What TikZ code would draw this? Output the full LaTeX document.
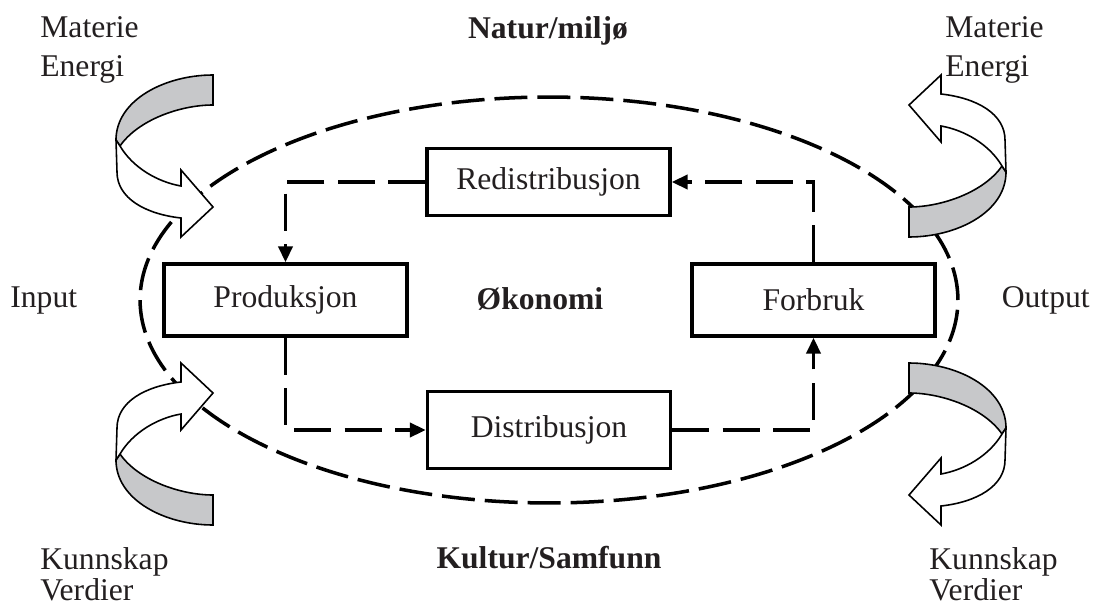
\documentclass[tikz,border=0pt]{standalone}
\usepackage{fontspec}
\setmainfont{Liberation Serif}
\usetikzlibrary{arrows.meta}
\definecolor{txt}{RGB}{35,31,32}
\definecolor{ribgrey}{RGB}{199,200,202}
\tikzset{
  lbl/.style={font=\fontsize{18pt}{21.6pt}\selectfont, text=txt, inner sep=0pt},
  boldlbl/.style={font=\fontsize{18pt}{21.6pt}\selectfont\bfseries, text=txt, inner sep=0pt},
  stepbox/.style={draw=black, line width=1.9pt, minimum width=4.86cm, minimum height=1.44cm, fill=white,
    font=\fontsize{18pt}{21.6pt}\selectfont, text=txt, inner sep=0pt},
  conn/.style={line width=2.2pt, dash pattern=on 0.74cm off 0.27cm, -{Triangle[length=0.32cm,width=0.28cm]}},
  ell/.style={line width=2pt, dash pattern=on 0.66cm off 0.2cm},
  ribbon/.style={draw=black, line width=0.9pt, line join=miter},
}
\newcommand\ribbonshape{%
  \filldraw[ribbon, fill=ribgrey] (213,75) .. controls (165,75) and (116,100) .. (116,140)
     -- (120,146) .. controls (138,120) and (180,105) .. (213,105) -- cycle;
  \filldraw[ribbon, fill=white] (120,146) .. controls (133,168) and (158,182) .. (181,186)
     -- (181,170) -- (213,207) -- (181,237) -- (181,218)
     .. controls (145,214) and (117,198) .. (117,172) -- (116,140) -- cycle;
}
\begin{document}
\begin{tikzpicture}[x=0.02cm, y=-0.02cm]
\useasboundingbox (0,0) rectangle (1094,608);

% environment ellipse
\draw[ell] (549,300) ellipse [x radius=8.18cm, y radius=4.06cm];

% boxes
\node[stepbox] (prod)  at (285.5,300) {Produksjon};
\node[stepbox] (forb)  at (813.5,300) {Forbruk};
\node[stepbox, minimum height=1.34cm] (redis) at (548.5,182) {Redistribusjon};
\node[stepbox, minimum height=1.54cm] (dist)  at (549,430)   {Distribusjon};

% connectors
\draw[conn] (redis.west) -| (prod.north);
\draw[conn] (prod.south) |- (dist.west);
\draw[conn] (dist.east) -| (forb.south);
\draw[conn] (forb.north) |- (redis.east);

% ribbon arrows
\begin{scope}\ribbonshape\end{scope}
\begin{scope}[shift={(0,600)}, yscale=-1]\ribbonshape\end{scope}
\begin{scope}[shift={(1122,312)}, xscale=-1, yscale=-1]\ribbonshape\end{scope}
\begin{scope}[shift={(1122,288)}, xscale=-1]\ribbonshape\end{scope}

% labels
\node[boldlbl, anchor=base] (natur) at (548,39) {Natur/miljø};
\node[boldlbl, anchor=base] (kultur) at (549,568) {Kultur/Samfunn};
\node[boldlbl, anchor=base] (oko) at (540,309) {Økonomi};
\node[lbl, anchor=base west] (inp) at (10,307) {Input};
\node[lbl, anchor=base east] (outp) at (1090,307) {Output};

\node[lbl, anchor=base west] (mat1) at (40,38) {Materie};
\node[lbl, anchor=base west] (ene1) at (40,76) {Energi};
\node[lbl, anchor=base west] (mat2) at (945,38) {Materie};
\node[lbl, anchor=base west] (ene2) at (945,76) {Energi};
\node[lbl, anchor=base west] (kun1) at (40,569) {Kunnskap};
\node[lbl, anchor=base west] (ver1) at (40,600) {Verdier};
\node[lbl, anchor=base west] (kun2) at (929,569) {Kunnskap};
\node[lbl, anchor=base west] (ver2) at (929,600) {Verdier};
\end{tikzpicture}
\end{document}
